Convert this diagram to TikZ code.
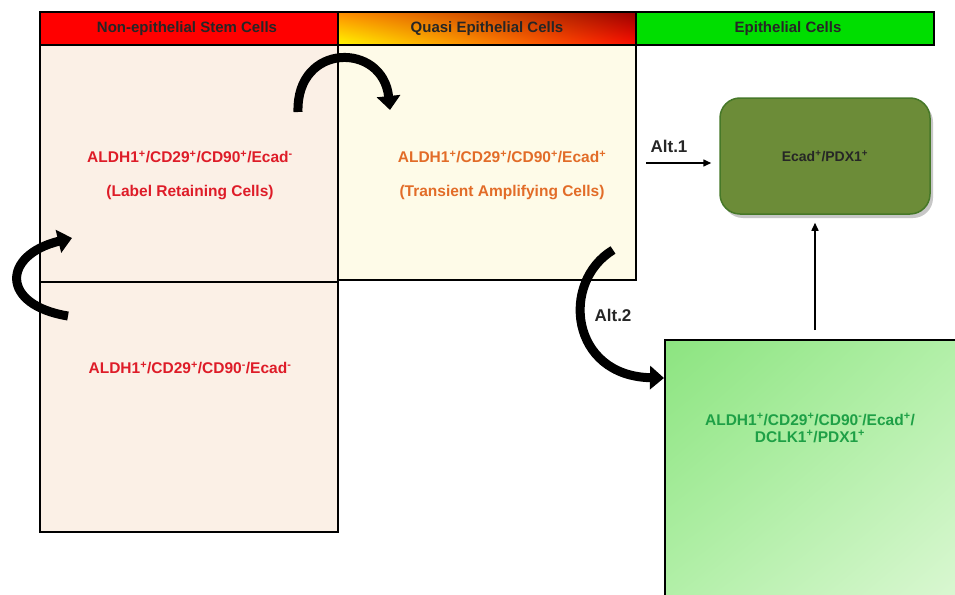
\documentclass[tikz,border=0pt]{standalone}
\usepackage{fontspec}
\setmainfont{Liberation Sans}
\usetikzlibrary{arrows.meta,shadings}
\newcommand\supr[1]{\textsuperscript{#1}}
\definecolor{peach}{RGB}{251,240,230}
\definecolor{cream}{RGB}{254,251,232}
\definecolor{txtred}{RGB}{222,28,40}
\definecolor{txtorange}{RGB}{226,108,40}
\definecolor{txtgreen}{RGB}{30,160,70}
\definecolor{hdrgreen}{RGB}{0,222,0}
\definecolor{olive}{RGB}{108,140,56}
\definecolor{olivedark}{RGB}{70,120,40}
\definecolor{mintdark}{RGB}{140,228,128}
\definecolor{mintmid}{RGB}{180,240,170}
\definecolor{mintpale}{RGB}{222,248,214}
\tikzset{
  hdrtxt/.style={font=\fontsize{15}{17}\selectfont\bfseries, text=black!85},
  celltxt/.style={font=\fontsize{15.5}{17}\selectfont\bfseries, align=center},
  alttxt/.style={font=\fontsize{17}{19}\selectfont\bfseries, text=black!85},
  frame/.style={draw=black, line width=1.8pt},
  bigarrow/.style={line width=9pt, -{Triangle[width=23pt,length=14pt]}},
  thinarrow/.style={line width=1.5pt, -{Triangle[width=7pt,length=8pt]}},
}
\begin{document}
\begin{tikzpicture}[x=1pt,y=-1pt]
\useasboundingbox (0,0) rectangle (955,594);
\clip (0,0) rectangle (955,594);
\fill[white] (0,0) rectangle (955,594);

% column boxes
\fill[peach] (40,45) rectangle (338,532);
\fill[cream] (338,45) rectangle (636,280);
\draw[frame] (40,45) rectangle (338,532);
\draw[frame] (40,282) -- (338,282);
\draw[frame] (338,45) -- (338,280) -- (636,280) -- (636,45);

% header bars
\fill[red] (40,12) rectangle (338,45);
\shade[lower left=yellow!95!orange, upper left=orange!90!yellow, lower right=red!90!orange, upper right=red!60!black]
  (338,12) rectangle (636,45);
\fill[hdrgreen] (636,12) rectangle (934,45);
\draw[frame] (40,12) rectangle (934,45);
\draw[frame] (338,12) -- (338,45);
\draw[frame] (636,12) -- (636,45);
\node[hdrtxt] (h1) at (187,29) {Non-epithelial Stem Cells};
\node[hdrtxt] (h2) at (487,29) {Quasi Epithelial Cells};
\node[hdrtxt] (h3) at (788,29) {Epithelial Cells};

% cell populations
\node[celltxt, text=txtred] (lrc) at (190,157) {ALDH1\supr{+}/CD29\supr{+}/CD90\supr{+}/Ecad\supr{-}};
\node[celltxt, text=txtred] (lrcname) at (190,193) {(Label Retaining Cells)};
\node[celltxt, text=txtorange] (tac) at (502,157) {ALDH1\supr{+}/CD29\supr{+}/CD90\supr{+}/Ecad\supr{+}};
\node[celltxt, text=txtorange] (tacname) at (502,193) {(Transient Amplifying Cells)};
\node[celltxt, text=txtred] (low) at (190,368) {ALDH1\supr{+}/CD29\supr{+}/CD90\supr{-}/Ecad\supr{-}};

% epithelial boxes
\shade[upper left=mintdark, lower left=mintmid, upper right=mintmid, lower right=mintpale]
  (665,340) rectangle (975,610);
\draw[frame] (665,610) -- (665,340) -- (975,340);
\coordinate (bigtop) at (815,330);
\node[celltxt, text=txtgreen] (dclk) at (810,428) {ALDH1\supr{+}/CD29\supr{+}/CD90\supr{-}/Ecad\supr{+}/\\DCLK1\supr{+}/PDX1\supr{+}};

\fill[black!22, rounded corners=20pt] (723,102) rectangle (933,218);
\node[draw=olivedark, line width=1.5pt, fill=olive, rounded corners=20pt,
      minimum width=210pt, minimum height=116pt, font=\fontsize{14}{16}\selectfont\bfseries, text=black!85] (ecad) at (825,156) {Ecad\supr{+}/PDX1\supr{+}};

% transitions
\coordinate (alt1start) at (646,163);
\draw[thinarrow] (alt1start) -- ([xshift=-8pt]alt1start -| ecad.west);
\node[alttxt] (alt1) at (669,146) {Alt.1};
\draw[thinarrow] (bigtop) -- ([yshift=-8pt]bigtop |- ecad.south);

\coordinate (a1s) at (298,112);
\coordinate (a1e) at (390,110);
\draw[bigarrow] (a1s) .. controls (296,42) and (383,42) .. (a1e);

\coordinate (a2s) at (68,316);
\coordinate (a2e) at (72,238);
\draw[bigarrow] (a2s) .. controls (0,305) and (2,255) .. (a2e);

\coordinate (a3s) at (613,250);
\coordinate (a3e) at (664,378);
\draw[bigarrow] (a3s) .. controls (560,282) and (570,376) .. (a3e);
\node[alttxt] (alt2) at (613,315) {Alt.2};
\end{tikzpicture}
\end{document}
